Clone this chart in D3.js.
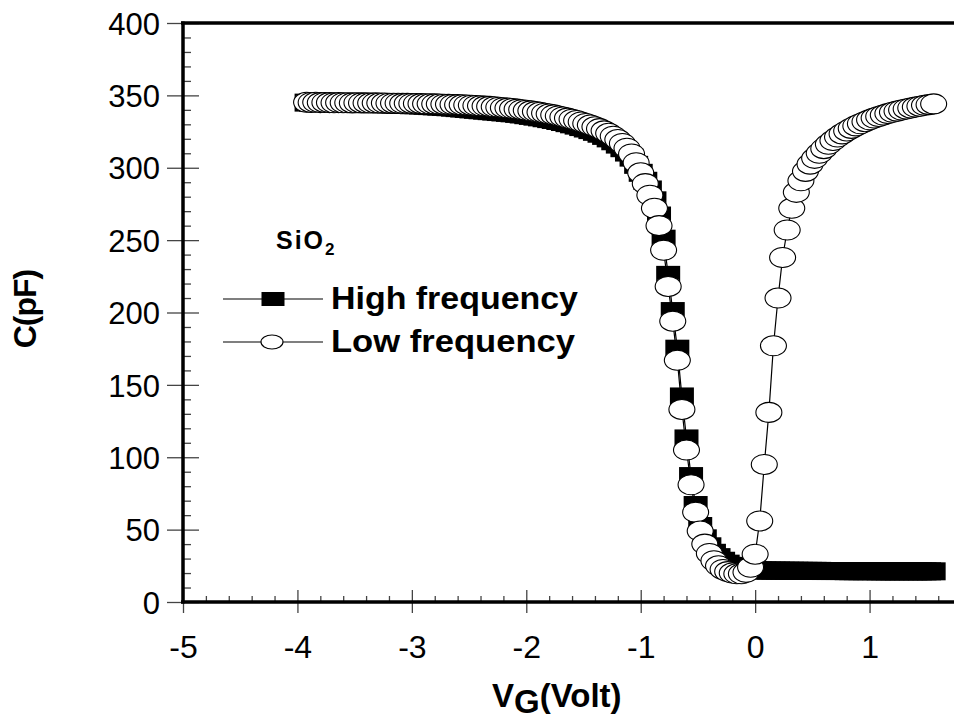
<!DOCTYPE html>
<html><head><meta charset="utf-8">
<script src="https://cdn.jsdelivr.net/npm/d3@7"></script>
<style>
html,body{margin:0;padding:0;background:#fff;}
svg{display:block;font-family:"Liberation Sans",Arial,Helvetica,sans-serif;}
</style></head><body>
<svg id="chart" width="954" height="720"></svg>
<script>
// Gate voltage (V)
const voltage = [
 -3.92,-3.88,-3.84,-3.80,-3.76,-3.72,-3.68,-3.64,-3.60,-3.56,-3.52,-3.48,-3.44,-3.40,-3.36,-3.32,-3.28,-3.24,-3.20,-3.16,-3.12,-3.08,-3.04,-3.00,
 -2.96,-2.92,-2.88,-2.84,-2.80,-2.76,-2.72,-2.68,-2.64,-2.60,-2.56,-2.52,-2.48,-2.44,-2.40,-2.36,-2.32,-2.28,-2.24,-2.20,-2.16,-2.12,-2.08,-2.04,-2.00,
 -1.96,-1.92,-1.88,-1.84,-1.80,-1.76,-1.72,-1.68,-1.64,-1.60,-1.56,-1.52,-1.48,-1.44,-1.40,-1.36,-1.32,-1.28,-1.24,-1.20,-1.16,-1.12,-1.08,-1.04,-1.00,
 -0.96,-0.92,-0.88,-0.84,-0.80,-0.76,-0.72,-0.68,-0.64,-0.60,-0.56,-0.52,-0.48,-0.44,-0.40,-0.36,-0.32,-0.28,-0.24,-0.20,-0.16,-0.12,-0.08,-0.04,0.00,
 0.04,0.08,0.12,0.16,0.20,0.24,0.28,0.32,0.36,0.40,0.44,0.48,0.52,0.56,0.60,0.64,0.68,0.72,0.76,0.80,0.84,0.88,0.92,0.96,1.00,
 1.04,1.08,1.12,1.16,1.20,1.24,1.28,1.32,1.36,1.40,1.44,1.48,1.52,1.56
];
// Low frequency capacitance (pF)
const lowFrequency = [
 345.2,345.1,345.2,345.0,345.1,345.0,344.9,345.0,344.9,344.9,344.8,344.9,344.8,344.8,344.7,344.8,344.7,344.7,344.6,344.6,344.6,344.5,344.5,344.4,
 344.4,344.3,344.2,344.2,344.1,344.0,343.9,343.8,343.7,343.6,343.5,343.4,343.2,343.0,342.8,342.6,342.4,342.1,341.8,341.5,341.2,340.9,340.5,340.1,339.7,
 339.3,338.8,338.3,337.7,337.1,336.5,335.8,335.1,334.3,333.5,332.6,331.6,330.6,329.5,328.3,327.0,325.5,323.8,321.8,319.5,316.8,313.5,309.5,303.5,296.5,
 289,281,272,260,243,218,194,167,133,105,81,62,49,40,33.5,28.5,25,22.5,21,20,19.5,19.5,20.5,24,33,
 56,95,131,177,210,238,257,272,283,291,297.5,302.5,306.5,310,313.2,316.2,318.8,321.2,323.4,325.4,327.2,328.9,330.4,331.8,333.1,
 334.3,335.4,336.4,337.4,338.3,339.1,339.9,340.6,341.3,341.9,342.5,343.1,343.6,344.1
];
// High frequency capacitance (pF)
const highFrequency = [
 345.0,344.9,344.9,344.8,344.8,344.7,344.6,344.6,344.5,344.5,344.4,344.4,344.3,344.2,344.1,344.1,344.0,343.9,343.8,343.7,343.6,343.5,343.4,343.2,
 343.2,343.0,342.8,342.6,342.4,342.2,342.0,341.8,341.5,341.2,340.9,340.6,340.3,340.0,339.7,339.4,339.1,338.8,338.5,338.2,337.9,337.6,337.2,336.8,336.3,
 335.8,335.3,334.8,334.2,333.6,333.0,332.3,331.6,330.8,330.0,329.1,328.1,327.1,326.0,324.8,323.5,322.0,320.3,318.3,316.0,313.5,310.5,307.0,302.0,296.5,
 291,285,277.5,267,251,226,201,175,142,113,87,67,52.5,44,38.5,34,31,28.5,26.5,25,24,23.2,22.6,22.2,21.9,
 21.8,21.8,21.7,21.7,21.7,21.6,21.6,21.6,21.6,21.5,21.5,21.5,21.5,21.5,21.4,21.4,21.4,21.4,21.4,21.3,21.3,21.3,21.3,21.3,21.3,
 21.3,21.2,21.2,21.2,21.2,21.2,21.2,21.2,21.2,21.2,21.2,21.2,21.2,21.2
];
const xTickLabels = [-5,-4,-3,-2,-1,0,1];
const yTickLabels = [0,50,100,150,200,250,300,350,400];
const seriesNames = ["High frequency","Low frequency"];
const materialLabel = "SiO";
const materialSub = "2";

const svg = d3.select("#chart");
const x = d3.scaleLinear().domain([-5,2]).range([183,984]);
const y = d3.scaleLinear().domain([0,400]).range([602,23]);

const xMinor = d3.range(-5,2.01,0.2).map(v=>+v.toFixed(2)).filter(v=>Math.abs(v-Math.round(v))>1e-6);
const yMinor = d3.range(0,401,10).filter(v=>v%50!==0);
const tickColor = "#444";
const fmt = d => String(d);

function styleAxis(g){
  g.select(".domain").remove();
  g.selectAll(".tick line").attr("stroke",tickColor).attr("stroke-width",1.3);
}
// Y axis
svg.append("g").attr("transform","translate(183,0)")
  .call(d3.axisLeft(y).tickValues(yTickLabels).tickSize(16).tickPadding(7).tickFormat(fmt))
  .call(styleAxis)
  .call(g=>g.selectAll("text").attr("font-size",31).attr("fill","#000").attr("dy","0.36em")
     .attr("font-family","'Liberation Sans',Arial,sans-serif"));
svg.append("g").attr("transform","translate(183,0)")
  .call(d3.axisLeft(y).tickValues(yTickLabels).tickSize(-16).tickFormat(""))
  .call(styleAxis);
svg.append("g").attr("transform","translate(183,0)")
  .call(d3.axisLeft(y).tickValues(yMinor).tickSize(-8).tickFormat(""))
  .call(styleAxis);
// X axis
svg.append("g").attr("transform","translate(0,602)")
  .call(d3.axisBottom(x).tickValues(xTickLabels).tickSize(11).tickFormat(fmt))
  .call(styleAxis)
  .call(g=>g.selectAll("text").attr("font-size",32).attr("fill","#000").attr("y",56).attr("dy",0)
     .attr("font-family","'Liberation Sans',Arial,sans-serif"));
svg.append("g").attr("transform","translate(0,602)")
  .call(d3.axisBottom(x).tickValues(xTickLabels).tickSize(-12).tickFormat(""))
  .call(styleAxis);
svg.append("g").attr("transform","translate(0,602)")
  .call(d3.axisBottom(x).tickValues(xMinor).tickSize(-6).tickFormat(""))
  .call(styleAxis);

// data
const pts = voltage.map((v,i)=>({v, hf:highFrequency[i], lf:lowFrequency[i]}));
const hfLine = d3.line().x(d=>x(d.v)).y(d=>y(d.hf));
const lfLine = d3.line().x(d=>x(d.v)).y(d=>y(d.lf));
svg.append("path").datum(pts).attr("d",hfLine).attr("fill","none").attr("stroke","#000").attr("stroke-width",1.2);
svg.append("g").selectAll("rect").data(pts).join("rect")
  .attr("x",d=>x(d.v)-12).attr("y",d=>y(d.hf)-9).attr("width",24).attr("height",18)
  .attr("fill","#000");
svg.append("path").datum(pts).attr("d",lfLine).attr("fill","none").attr("stroke","#000").attr("stroke-width",1.2);
svg.append("g").selectAll("ellipse").data(pts).join("ellipse")
  .attr("cx",d=>x(d.v)).attr("cy",d=>y(d.lf)).attr("rx",13).attr("ry",10)
  .attr("fill","#fff").attr("stroke","#000").attr("stroke-width",1.1);

// spines
svg.append("line").attr("x1",183).attr("x2",183).attr("y1",21.5).attr("y2",603.5).attr("stroke","#000").attr("stroke-width",3.5);
svg.append("line").attr("x1",181).attr("x2",954).attr("y1",23).attr("y2",23).attr("stroke","#000").attr("stroke-width",3.5);
svg.append("line").attr("x1",181).attr("x2",954).attr("y1",602).attr("y2",602).attr("stroke","#000").attr("stroke-width",3.5);

// axis titles
const xt = svg.append("text").attr("x",492).attr("y",707).attr("font-size",33).attr("font-weight","bold");
xt.append("tspan").text("V");
xt.append("tspan").attr("dy",6).text("G");
xt.append("tspan").attr("dy",-6).text("(Volt)");
svg.append("text").attr("transform","translate(36,309) rotate(-90)").attr("text-anchor","middle")
  .attr("font-size",32).attr("font-weight","bold").attr("letter-spacing",-1).text("C(pF)");

// legend
const mt = svg.append("text").attr("x",276).attr("y",249).attr("font-size",25).attr("font-weight","bold");
mt.append("tspan").attr("letter-spacing",2).text(materialLabel);
mt.append("tspan").attr("dy",6).attr("font-size",17).text(materialSub);

const lg = svg.append("g");
const rows = [{name:seriesNames[0], y:299, type:"square", len:247},{name:seriesNames[1], y:342, type:"circle", len:244}];
rows.forEach(r=>{
  lg.append("line").attr("x1",223).attr("x2",323).attr("y1",r.y).attr("y2",r.y).attr("stroke","#000").attr("stroke-width",1.2);
  if(r.type==="square"){
    lg.append("rect").attr("x",273-11.5).attr("y",r.y-7).attr("width",23).attr("height",14).attr("fill","#000");
  } else {
    lg.append("ellipse").attr("cx",272).attr("cy",r.y).attr("rx",11).attr("ry",7).attr("fill","#fff").attr("stroke","#000").attr("stroke-width",1.1);
  }
  lg.append("text").attr("x",331).attr("y",r.y+10).attr("font-size",31).attr("font-weight","bold")
    .attr("textLength",r.len).attr("lengthAdjust","spacingAndGlyphs").text(r.name);
});
</script>
</body></html>
